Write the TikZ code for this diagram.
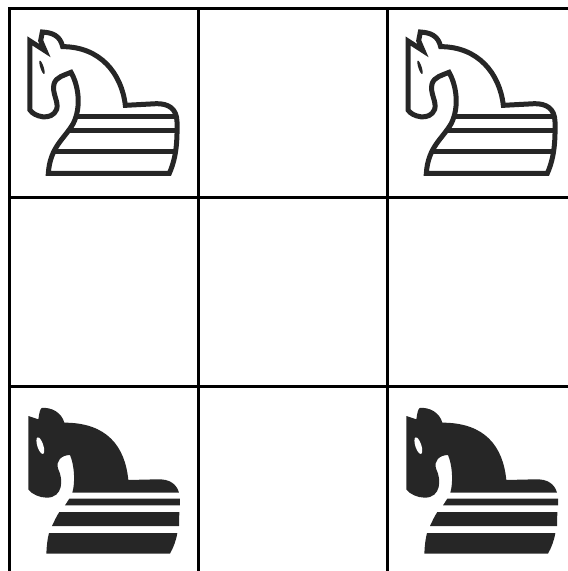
\documentclass[tikz,border=0pt]{standalone}
\usepackage{tikz}
\usetikzlibrary{calc}

\definecolor{knightdark}{HTML}{262626}

\tikzset{
  gridline/.style={black,line width=3pt},
  knightline/.style={knightdark,line width=5pt,line join=miter},
  pics/whiteknight/.style={code={
    % Outline
    \draw[knightline]
      (60,93) -- (60,300) .. controls (72,320) and (125,335) .. (140,298)
      .. controls (147,275) and (125,250) .. (132,222)
      .. controls (138,200) and (165,195) .. (183,187)
      .. controls (205,225) and (215,290) .. (190,340)
      .. controls (165,385) and (120,410) .. (115,490)
      -- (478,490) .. controls (500,440) and (502,390) .. (501,335)
      .. controls (500,295) and (475,281) .. (440,281)
      -- (346,286) .. controls (335,190) and (270,110) .. (158,110)
      .. controls (150,75) and (125,68) .. (97,66)
      -- (92,92) -- (105,122) -- cycle;
    % Stripes
    \draw[knightline] (195,320) -- (500,320);
    \draw[knightline] (170,362) -- (499,362);
    \draw[knightline] (130,425) -- (497,425);
    % Eye
    \fill[knightdark,rotate around={18:(96,172)}] (96,172) ellipse (5 and 21);
  }},
  pics/blackknight/.style={code={
    % Head and neck
    \fill[knightdark]
      (55,105) -- (85,115) .. controls (88,95) and (90,85) .. (95,81)
      .. controls (125,78) and (155,95) .. (163,125)
      .. controls (290,125) and (345,195) .. (355,297)
      -- (440,295) .. controls (480,293) and (500,310) .. (507,335)
      -- (187,335) .. controls (197,300) and (192,250) .. (180,222)
      .. controls (155,222) and (135,240) .. (145,265)
      .. controls (160,295) and (160,350) .. (110,350)
      .. controls (90,350) and (65,340) .. (55,325) -- cycle;
    % Stripes
    \fill[knightdark] (178,353) -- (510,353) -- (510,373) -- (165,373) -- cycle;
    \fill[knightdark] (148,393) -- (508,393) -- (507,435) -- (126,435)
      .. controls (133,420) and (140,405) .. (148,393) -- cycle;
    \fill[knightdark] (117,456) -- (502,456) .. controls (498,480) and (490,500) .. (480,518)
      -- (109,518) .. controls (110,495) and (112,475) .. (117,456) -- cycle;
    % Eye
    \fill[white,rotate around={18:(91,194)}] (91,194) ellipse (9 and 26);
  }}
}

\begin{document}
\begin{tikzpicture}[x=1pt,y=-1pt]

  \useasboundingbox (0,0) rectangle (568,571);

  % Board
  \foreach \gridx in {9.5,198,387} {
    \draw[gridline] (\gridx,7) -- (\gridx,571);
  }
  \foreach \gridy in {8.5,197,386} {
    \draw[gridline] (8,\gridy) -- (568,\gridy);
  }

  % Knights
  \pic[scale=1/3] at (10,10) {whiteknight};
  \pic[scale=1/3] at (388,10) {whiteknight};
  \pic[scale=1/3] at (10,381) {blackknight};
  \pic[scale=1/3] at (388,381) {blackknight};

\end{tikzpicture}
\end{document}
